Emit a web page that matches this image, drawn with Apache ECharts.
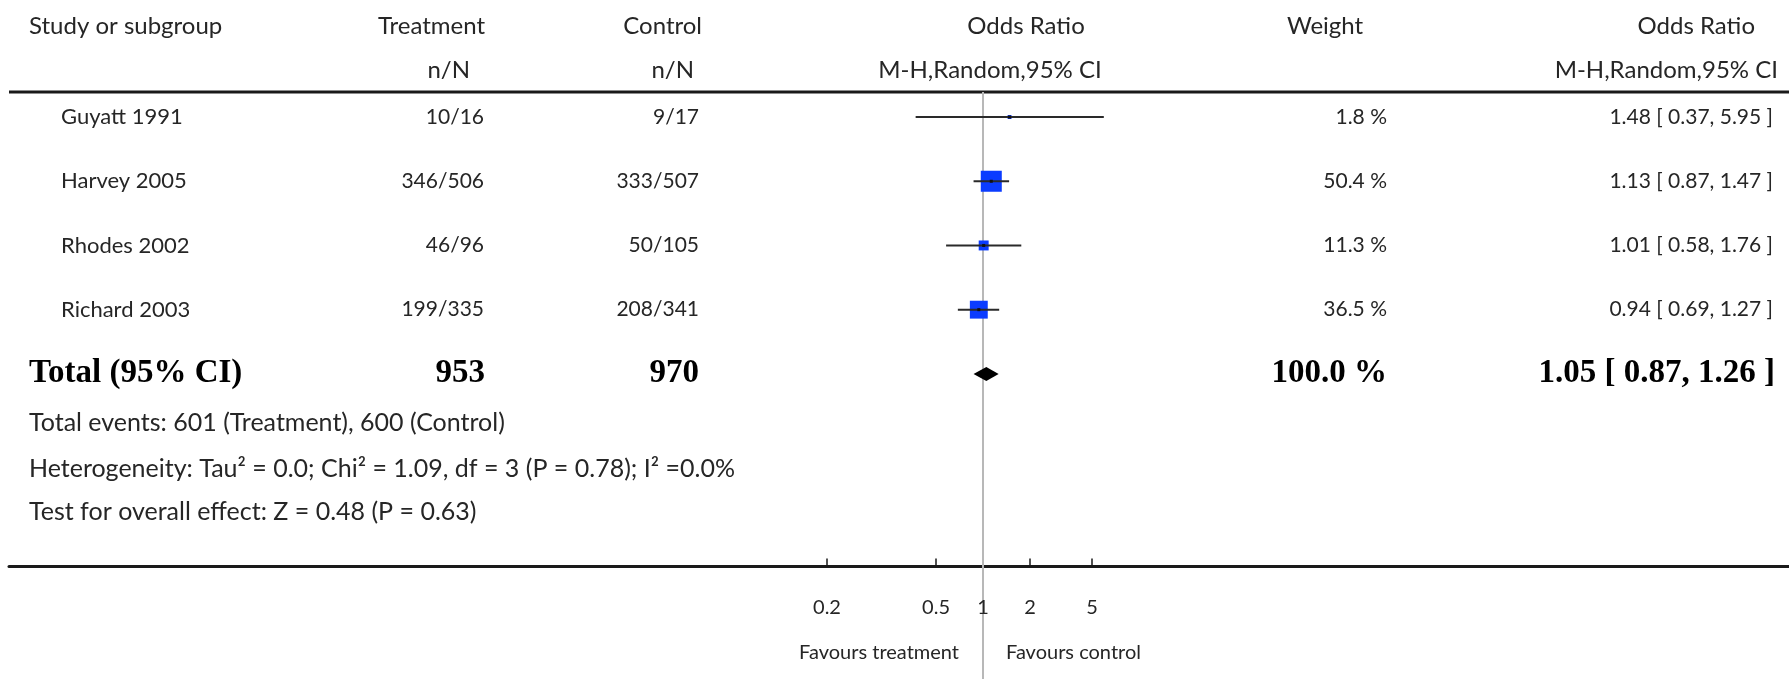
<!DOCTYPE html>
<html>
<head>
<meta charset="utf-8">
<title>Forest plot</title>
<script src="https://cdn.jsdelivr.net/npm/echarts@6/dist/echarts.min.js"></script>
<style>
  html, body { margin: 0; padding: 0; background: #fff; }
  #chart { width: 1789px; height: 679px; }
</style>
</head>
<body>
<div id="chart"></div>
<script>
// study rows
const studies = ['Guyatt 1991', 'Harvey 2005', 'Rhodes 2002', 'Richard 2003'];
const treatment = ['10/16', '346/506', '46/96', '199/335'];
const control = ['9/17', '333/507', '50/105', '208/341'];
const oddsRatio = [1.48, 1.13, 1.01, 0.94];
const ciLow = [0.37, 0.87, 0.58, 0.69];
const ciHigh = [5.95, 1.47, 1.76, 1.27];
const weight = [1.8, 50.4, 11.3, 36.5];

// pooled row
const totalLabel = 'Total (95% CI)';
const totalTreatment = '953';
const totalControl = '970';
const totalOR = 1.05;
const totalLow = 0.87;
const totalHigh = 1.26;
const totalWeight = 100.0;

// axis ticks, as printed in the figure
const tickValues = [0.1, 0.5, 1, 2, 5];
const tickLabels = ['0.2', '0.5', '1', '2', '5'];

const footnotes = [
  'Total events: 601 (Treatment), 600 (Control)',
  'Heterogeneity: Tau\u00B2 = 0.0; Chi\u00B2 = 1.09, df = 3 (P = 0.78); I\u00B2 =0.0%',
  'Test for overall effect: Z = 0.48 (P = 0.63)'
];

const SANS = 'Lato';
const TXT = '#262626';
const BLUE = '#0b3cff';

// row i sits at y = 7 - i on the hidden value axis (x axis sits on y = 0)
const rowY = i => 7 - i;

const fmtCI = (o, l, h) => o.toFixed(2) + ' [ ' + l.toFixed(2) + ', ' + h.toFixed(2) + ' ]';

const textData = studies.map((s, i) => [1, rowY(i), i]);
textData.push([1, rowY(studies.length), studies.length]);

function renderRowText(params, api) {
  const i = api.value(2);
  const y = api.coord([1, api.value(1)])[1];
  const cell = (text, x, align, font, fill) => ({
    type: 'text',
    style: { text, x, y, font, fill, align, verticalAlign: 'middle' }
  });
  if (i === studies.length) {
    const bold = 'bold 33px "Liberation Serif"';
    return {
      type: 'group',
      children: [
        cell(totalLabel, 29, 'left', bold, '#000'),
        cell(totalTreatment, 485, 'right', bold, '#000'),
        cell(totalControl, 699, 'right', bold, '#000'),
        cell(totalWeight.toFixed(1) + ' %', 1387, 'right', bold, '#000'),
        cell(fmtCI(totalOR, totalLow, totalHigh), 1775, 'right', bold, '#000')
      ]
    };
  }
  const num = '21px ' + SANS;
  return {
    type: 'group',
    children: [
      cell(studies[i], 61, 'left', '22px ' + SANS, TXT),
      cell(treatment[i], 484, 'right', num, TXT),
      cell(control[i], 699, 'right', num, TXT),
      cell(weight[i].toFixed(1) + ' %', 1387, 'right', num, TXT),
      cell(fmtCI(oddsRatio[i], ciLow[i], ciHigh[i]), 1773, 'right', num, TXT)
    ]
  };
}

function renderWhisker(params, api) {
  const y = api.value(2);
  const a = api.coord([api.value(0), y]);
  const b = api.coord([api.value(1), y]);
  return {
    type: 'line',
    shape: { x1: a[0], y1: a[1], x2: b[0], y2: b[1] },
    style: { stroke: '#2a2a2a', lineWidth: 2 }
  };
}

function renderDiamond(params, api) {
  const y = api.value(3);
  const l = api.coord([api.value(0), y]);
  const c = api.coord([api.value(1), y]);
  const r = api.coord([api.value(2), y]);
  const h = 7;
  return {
    type: 'polygon',
    shape: { points: [[l[0], l[1]], [c[0], c[1] - h], [r[0], r[1]], [c[0], c[1] + h]] },
    style: { fill: '#000' }
  };
}

function renderRefLine(params, api) {
  const cs = params.coordSys;
  const x = api.coord([api.value(0), 0])[0];
  return {
    type: 'line',
    shape: { x1: x, y1: cs.y, x2: x, y2: cs.y + cs.height },
    style: { stroke: '#b8b8b8', lineWidth: 2 }
  };
}

// tick labels hang below the axis line (axis lies on y = 0)
function renderTickLabel(params, api) {
  const p = api.coord([api.value(0), 0]);
  return {
    type: 'text',
    style: {
      text: tickLabels[api.value(2)],
      x: p[0], y: p[1] + 41,
      font: '20px ' + SANS, fill: TXT, align: 'center', verticalAlign: 'middle'
    }
  };
}

const chart = echarts.init(document.getElementById('chart'));

const hdr = (text, x, y, align) => ({
  type: 'text',
  style: { text, x, y, font: '24px ' + SANS, fill: TXT, align, verticalAlign: 'middle' }
});
const note = (text, y) => ({
  type: 'text',
  style: { text, x: 29, y, font: '25px ' + SANS, fill: TXT, align: 'left', verticalAlign: 'middle' }
});

const option = {
  animation: false,
  backgroundColor: '#fff',
  grid: { left: 9, right: 0, top: 92, bottom: 0, containLabel: false, outerBoundsMode: 'none' },
  xAxis: {
    type: 'log',
    logBase: 10,
    min: Math.pow(10, -6.2436),
    max: Math.pow(10, 5.1667),
    axisLine: { show: true, onZero: true, lineStyle: { color: '#1a1a1a', width: 3 } },
    axisTick: { show: true, inside: true, length: 8, customValues: tickValues, lineStyle: { color: '#1a1a1a', width: 1.5 } },
    axisLabel: { show: false },
    splitLine: { show: false },
    minorTick: { show: false }
  },
  yAxis: {
    type: 'value',
    show: false,
    min: -1.752,
    max: 7.39,
    splitLine: { show: false }
  },
  graphic: [
    { type: 'line', shape: { x1: 9, y1: 92, x2: 1789, y2: 92 }, style: { stroke: '#1a1a1a', lineWidth: 3 } },
    hdr('Study or subgroup', 29, 26, 'left'),
    hdr('Treatment', 485, 26, 'right'),
    hdr('n/N', 470, 70, 'right'),
    hdr('Control', 702, 26, 'right'),
    hdr('n/N', 694, 70, 'right'),
    hdr('Odds Ratio', 1026, 26, 'center'),
    hdr('M-H,Random,95% CI', 990, 70, 'center'),
    hdr('Weight', 1325, 26, 'center'),
    hdr('Odds Ratio', 1755, 26, 'right'),
    hdr('M-H,Random,95% CI', 1778, 70, 'right'),
    note(footnotes[0], 423),
    note(footnotes[1], 469),
    note(footnotes[2], 512),
    { type: 'text', style: { text: 'Favours treatment', x: 959, y: 653, font: '20px ' + SANS, fill: TXT, align: 'right', verticalAlign: 'middle' } },
    { type: 'text', style: { text: 'Favours control', x: 1006, y: 653, font: '20px ' + SANS, fill: TXT, align: 'left', verticalAlign: 'middle' } }
  ],
  series: [
    {
      name: 'no effect',
      type: 'custom',
      z: 1,
      silent: true,
      renderItem: renderRefLine,
      encode: { x: 0 },
      data: [[1]]
    },
    {
      name: 'weight',
      type: 'scatter',
      z: 2,
      silent: true,
      symbol: 'rect',
      symbolSize: v => 2.96 * Math.sqrt(v[2]),
      itemStyle: { color: BLUE, opacity: 1 },
      data: oddsRatio.map((o, i) => [o, rowY(i), weight[i]])
    },
    {
      name: 'ci',
      type: 'custom',
      z: 3,
      silent: true,
      renderItem: renderWhisker,
      encode: { x: [0, 1], y: 2 },
      data: oddsRatio.map((o, i) => [ciLow[i], ciHigh[i], rowY(i)])
    },
    {
      name: 'estimate',
      type: 'scatter',
      z: 4,
      silent: true,
      symbol: 'rect',
      symbolSize: 3,
      itemStyle: { color: '#111', opacity: 1 },
      data: oddsRatio.map((o, i) => [o, rowY(i)])
    },
    {
      name: 'pooled',
      type: 'custom',
      z: 3,
      silent: true,
      renderItem: renderDiamond,
      encode: { x: [0, 1, 2], y: 3 },
      data: [[totalLow, totalOR, totalHigh, rowY(studies.length)]]
    },
    {
      name: 'ticks',
      type: 'custom',
      z: 5,
      silent: true,
      clip: false,
      renderItem: renderTickLabel,
      encode: { x: 0, y: 1 },
      data: tickValues.map((t, k) => [t, 0, k])
    },
    {
      name: 'table',
      type: 'custom',
      z: 5,
      silent: true,
      clip: false,
      renderItem: renderRowText,
      encode: { x: 0, y: 1 },
      data: textData
    }
  ]
};

chart.setOption(option);
</script>
</body>
</html>
